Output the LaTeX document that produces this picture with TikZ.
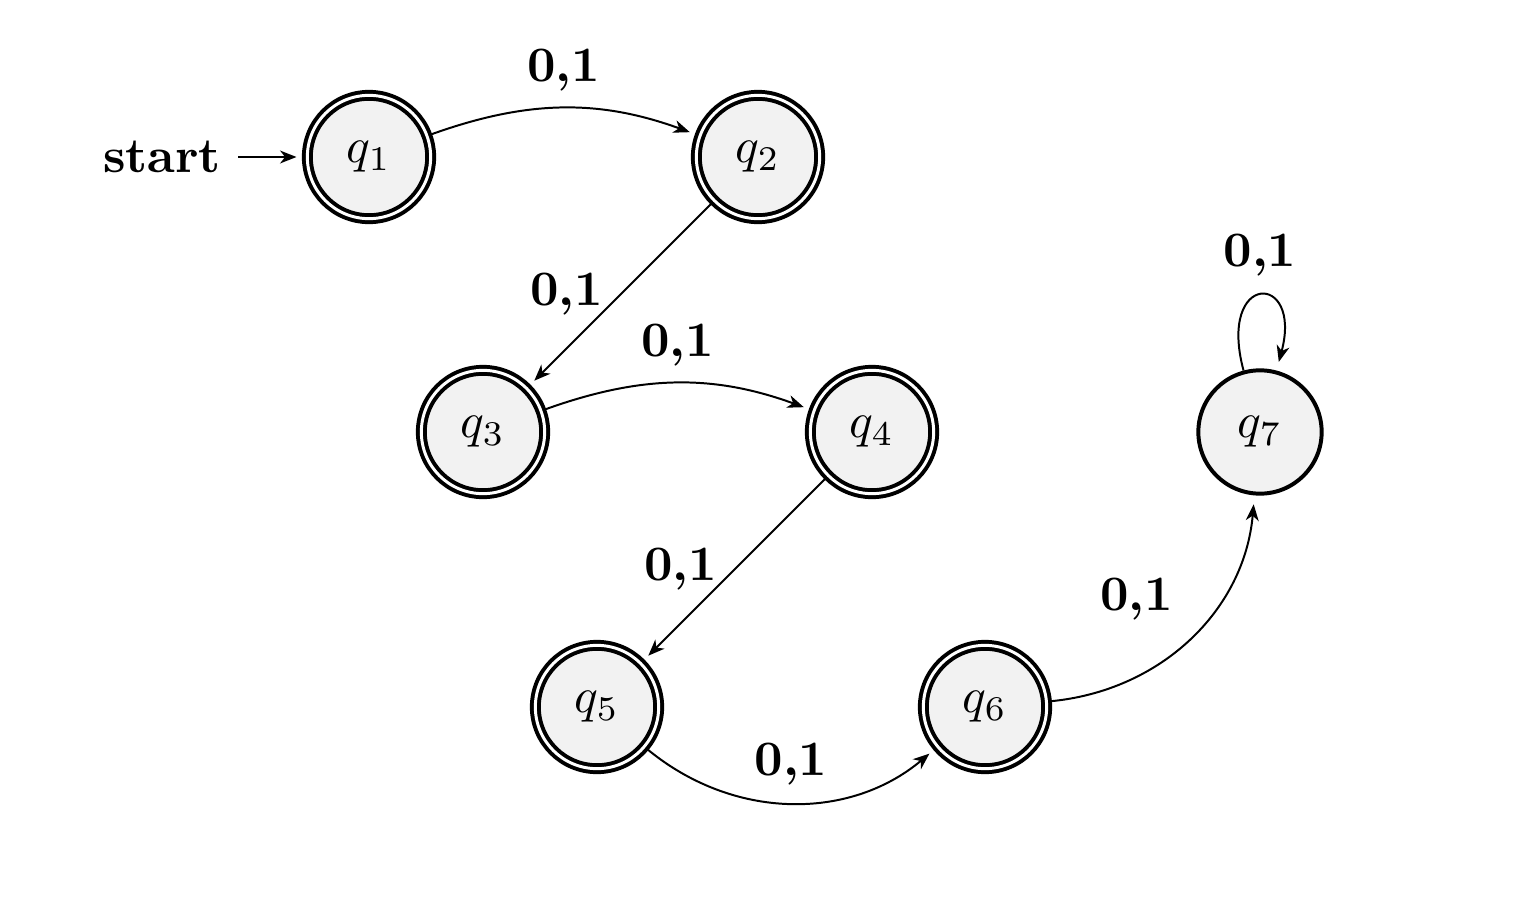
\documentclass[tikz,border=0pt]{standalone}
\usetikzlibrary{arrows.meta}
\begin{document}
\begin{tikzpicture}[x=0.0071cm,y=0.0071cm,>={Stealth[length=3.3pt,width=2.6pt,inset=1pt]},
  stt/.style={circle,draw,thick,fill=gray!10,minimum size=0.875cm,inner sep=0pt},
  acc/.style={stt,double,double distance=0.6pt},
  lab/.style={font=\bfseries},
  arr/.style={->,shorten >=1.8pt}]
\useasboundingbox (0,0) rectangle (1518,900);
\node[acc] (q1) at (369,743) {$q_1$};
\node[acc] (q2) at (758,743) {$q_2$};
\node[acc] (q3) at (483,468) {$q_3$};
\node[acc] (q4) at (872,468) {$q_4$};
\node[acc] (q5) at (597,193) {$q_5$};
\node[acc] (q6) at (985,193) {$q_6$};
\node[stt] (q7) at (1260,468) {$q_7$};
\node[lab] (start) at (162,743) {start};
\draw[arr] (start) -- (q1);
\draw[arr] (q1) to[bend left=20] node[auto,lab] {0,1} (q2);
\draw[arr] (q2) -- node[left,lab] {0,1} (q3);
\draw[arr] (q3) to[bend left=20] node[auto,lab] {0,1} (q4);
\draw[arr] (q4) -- node[left,lab] {0,1} (q5);
\draw[arr] (q5) to[bend right=40] node[auto,lab] {0,1} (q6);
\draw[arr] (q6) to[bend right=40] node[auto,lab] {0,1} (q7);
\draw[arr] (q7) to[loop above] node[auto,lab,yshift=0.5pt] {0,1} (q7);
\end{tikzpicture}
\end{document}
